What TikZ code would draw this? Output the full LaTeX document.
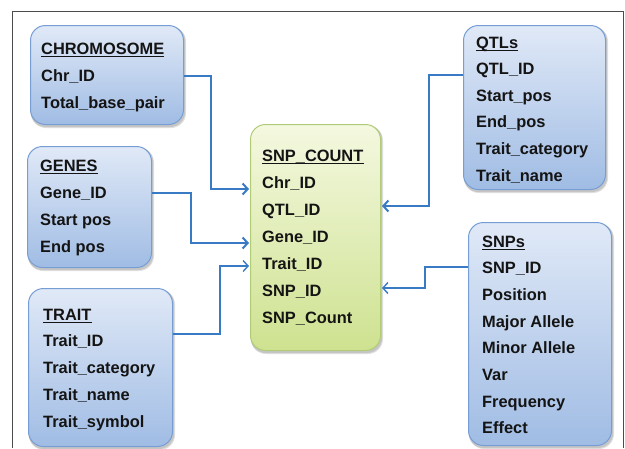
\documentclass[tikz,border=0pt]{standalone}
\usepackage{fontspec}
\setmainfont{Liberation Sans}
\usetikzlibrary{backgrounds,arrows.meta}
\definecolor{bluetop}{RGB}{224,233,247}
\definecolor{bluebot}{RGB}{160,188,228}
\definecolor{blueline}{RGB}{118,158,212}
\definecolor{greentop}{RGB}{244,248,224}
\definecolor{greenbot}{RGB}{206,226,144}
\definecolor{greenline}{RGB}{176,204,118}
\definecolor{arrowblue}{RGB}{56,122,196}
\newcommand\tbltext[6]{%
  \node[fld, anchor=base west] (#1-0) at (#2,#3) {#5};
  \draw[ul] ([yshift=-2.6pt]#1-0.base west) -- ([yshift=-2.6pt]#1-0.base east);
  \foreach \s [count=\i] in {#6} {
    \node[fld, anchor=base west] (#1-\i) at (#2,#3+\i*#4) {\s};
  }%
}
\begin{document}
\begin{tikzpicture}[x=1pt,y=-1pt,
  tbl/.style={draw=blueline, line width=1pt, rounded corners=15pt,
    top color=bluetop, bottom color=bluebot, anchor=north west, inner sep=0pt},
  ctbl/.style={draw=greenline, line width=1pt, rounded corners=15pt,
    top color=greentop, bottom color=greenbot, anchor=north west, inner sep=0pt},
  shd/.style={fill=black, opacity=0.12, rounded corners=15pt},
  fld/.style={inner sep=0pt, font=\fontsize{16.4}{20}\selectfont\bfseries, text=black!92},
  ul/.style={line width=1.1pt, black!92},
  conn/.style={draw=arrowblue, line width=2pt, shorten >=1pt, -{Straight Barb[length=5pt,width=11pt]}},
  thinconn/.style={conn, line width=1.4pt}]
\path[use as bounding box] (0,0) rectangle (625,448);
\draw[black!70, line width=1pt] (12.5,448) -- (12.5,11) -- (623.5,11) -- (623.5,448);

% boxes
\node[tbl, minimum width=153pt, minimum height=99pt] (chrom) at (30,25) {};
\node[tbl, minimum width=124pt, minimum height=121pt] (genes) at (27,146) {};
\node[tbl, minimum width=144pt, minimum height=158pt] (trait) at (28,288) {};
\node[tbl, minimum width=142pt, minimum height=164pt] (qtls) at (463,25) {};
\node[tbl, minimum width=143pt, minimum height=223pt] (snps) at (468,222) {};
\node[ctbl, minimum width=130pt, minimum height=226pt] (cnt) at (250,124) {};

\begin{scope}[on background layer]
  \foreach \b in {chrom,genes,trait,qtls,snps,cnt} {
    \fill[shd] ([shift={(1,1.5)}]\b.north west) rectangle ([shift={(2,3)}]\b.south east);
    \fill[shd] ([shift={(0.5,1)}]\b.north west) rectangle ([shift={(1.2,2)}]\b.south east);
  }
\end{scope}

% texts
\tbltext{chromt}{41}{54}{27}{CHROMOSOME}{Chr\_ID,Total\_base\_pair}
\tbltext{genest}{40}{171}{27}{GENES}{Gene\_ID,Start pos,End pos}
\tbltext{traitt}{43}{320}{26.8}{TRAIT}{Trait\_ID,Trait\_category,Trait\_name,Trait\_symbol}
\tbltext{qtlst}{476}{48}{26.6}{QTLs}{QTL\_ID,Start\_pos,End\_pos,Trait\_category,Trait\_name}
\tbltext{snpst}{482}{247}{26.7}{SNPs}{SNP\_ID,Position,Major Allele,Minor Allele,Var,Frequency,Effect}
\tbltext{cntt}{262}{161}{27}{SNP\_COUNT}{Chr\_ID,QTL\_ID,Gene\_ID,Trait\_ID,SNP\_ID,SNP\_Count}

% connectors
\draw[conn] (chrom.east |- 0,76) -| (211,189) -- (cnt.west |- 0,189);
\draw[conn] (genes.east |- 0,193) -| (191,243) -- (cnt.west |- 0,243);
\draw[thinconn] (trait.east |- 0,334) -| (220,266) -- (cnt.west |- 0,266);
\draw[conn] (qtls.west |- 0,75) -| (429,206) -- (cnt.east |- 0,206);
\draw[thinconn] (snps.west |- 0,267) -| (425,288) -- (cnt.east |- 0,288);
\end{tikzpicture}
\end{document}
